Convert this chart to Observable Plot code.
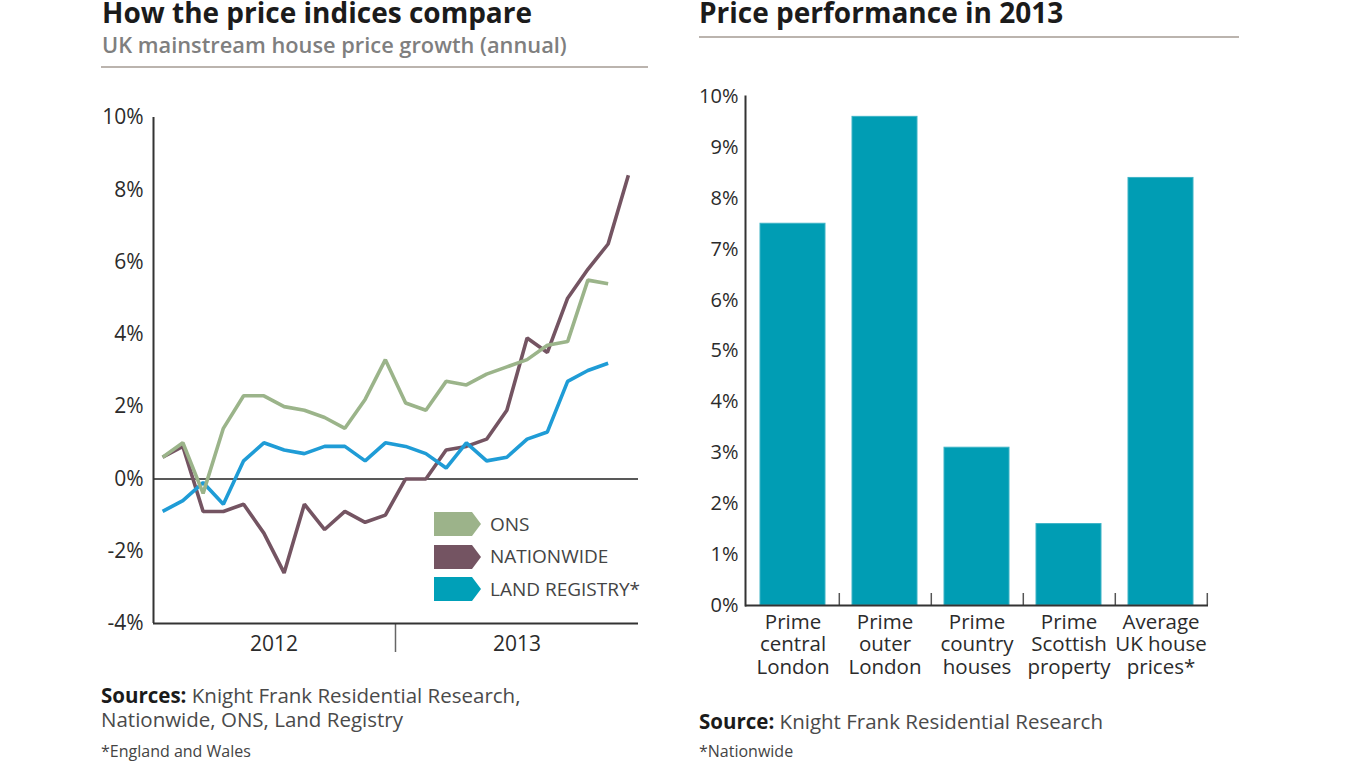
<!DOCTYPE html>
<html>
<head>
<meta charset="utf-8">
<script src="https://cdn.jsdelivr.net/npm/d3@7"></script>
<script src="https://cdn.jsdelivr.net/npm/@observablehq/plot@0.6"></script>
<style>
  body { margin: 0; width: 1366px; height: 768px; background: #fff; position: relative; overflow: hidden; font-family: "Open Sans", sans-serif; }
  .abs { position: absolute; white-space: nowrap; line-height: 1; }
  .title { font-weight: 700; font-size: 28px; color: #1b1b1b; line-height: 0.8; }
  .subtitle { font-weight: 600; font-size: 21.8px; color: #7f7f7f; }
  .rule { position: absolute; height: 2px; background: #bbb4ae; }
  .src { font-size: 20.5px; color: #4a4a4a; line-height: 24px; }
  .src b { color: #1b1b1b; font-weight: 700; }
  .note { font-size: 16px; color: #444; }
  .legend-row { position: absolute; display: flex; align-items: center; height: 24px; }
  .legend-row span { font-size: 19px; color: #444; margin-left: 9px; line-height: 1; }
  #left, #right { position: absolute; }
</style>
</head>
<body>
<div class="abs title" style="left:102px; top:1px;">How the price indices compare</div>
<div class="abs subtitle" style="left:102px; top:33.5px;">UK mainstream house price growth (annual)</div>
<div class="rule" style="left:101px; top:66px; width:547px;"></div>

<div class="abs title" style="left:699px; top:1px;">Price performance in 2013</div>
<div class="rule" style="left:699px; top:36px; width:540px;"></div>

<div id="left" style="left:90px; top:90px;"></div>
<div id="right" style="left:690px; top:80px;"></div>
<div id="legend"></div>

<div class="abs src" style="left:101px; top:683px;"><b>Sources:</b> Knight Frank Residential Research,<br>Nationwide, ONS, Land Registry</div>
<div class="abs note" style="left:101px; top:743px;">*England and Wales</div>

<div class="abs src" style="left:699px; top:709px;"><b>Source:</b> Knight Frank Residential Research</div>
<div class="abs note" style="left:699px; top:743px;">*Nationwide</div>

<script>
// ---------- Left chart data (annual % growth, monthly Jan 2012 – Dec 2013) ----------
const months = ["Jan 2012","Feb 2012","Mar 2012","Apr 2012","May 2012","Jun 2012","Jul 2012","Aug 2012","Sep 2012","Oct 2012","Nov 2012","Dec 2012",
                "Jan 2013","Feb 2013","Mar 2013","Apr 2013","May 2013","Jun 2013","Jul 2013","Aug 2013","Sep 2013","Oct 2013","Nov 2013","Dec 2013"];
const ons = [0.6, 1.0, -0.4, 1.4, 2.3, 2.3, 2.0, 1.9, 1.7, 1.4, 2.2, 3.3, 2.1, 1.9, 2.7, 2.6, 2.9, 3.1, 3.3, 3.7, 3.8, 5.5, 5.4];
const nationwide = [0.6, 0.9, -0.9, -0.9, -0.7, -1.5, -2.6, -0.7, -1.4, -0.9, -1.2, -1.0, 0.0, 0.0, 0.8, 0.9, 1.1, 1.9, 3.9, 3.5, 5.0, 5.8, 6.5, 8.4];
const landRegistry = [-0.9, -0.6, -0.1, -0.7, 0.5, 1.0, 0.8, 0.7, 0.9, 0.9, 0.5, 1.0, 0.9, 0.7, 0.3, 1.0, 0.5, 0.6, 1.1, 1.3, 2.7, 3.0, 3.2];
const seriesNames = ["ONS", "NATIONWIDE", "LAND REGISTRY*"];
const seriesColors = ["#9bb48a", "#745462", "#1f9cd6"];
const legendColors = ["#9cb38a", "#745462", "#00a0b8"];
const leftYTicks = [-4, -2, 0, 2, 4, 6, 8, 10];
const years = ["2012", "2013"];

// ---------- Right chart data ----------
const categories = ["Prime central London", "Prime outer London", "Prime country houses", "Prime Scottish property", "Average UK house prices*"];
const categoryLabels = ["Prime\ncentral\nLondon", "Prime\nouter\nLondon", "Prime\ncountry\nhouses", "Prime\nScottish\nproperty", "Average\nUK house\nprices*"];
const performance2013 = [7.5, 9.6, 3.1, 1.6, 8.4];
const rightYTicks = [0, 1, 2, 3, 4, 5, 6, 7, 8, 9, 10];

// ---------- Build tables ----------
const toRows = (arr, name) => arr.map((v, i) => ({series: name, month: months[i], i, value: v}));
const onsRows = toRows(ons, seriesNames[0]);
const nwRows = toRows(nationwide, seriesNames[1]);
const lrRows = toRows(landRegistry, seriesNames[2]);
const xDomain = [-0.45, months.length - 0.5];
const yearCenters = years.map((y, k) => k * 12 + 5.5);
const yearBoundary = 11.5;

const fontStyle = {fontFamily: "'Open Sans', sans-serif", fontSize: "20px", color: "#333", background: "transparent", overflow: "visible"};

const lineOpts = (color) => ({x: "i", y: "value", stroke: color, strokeWidth: 3.6, strokeLinejoin: "miter", strokeLinecap: "butt"});

const left = Plot.plot({
  width: 560, height: 580,
  marginLeft: 63, marginRight: 12, marginTop: 27, marginBottom: 47,
  x: {domain: xDomain, label: null},
  y: {domain: [leftYTicks[0], leftYTicks[leftYTicks.length - 1]], label: null},
  style: fontStyle,
  marks: [
    Plot.axisY({ticks: leftYTicks, tickFormat: d => d + "%", tickSize: 0, tickPadding: 10, fontSize: 21, fill: "#2b2b2b", label: null}),
    Plot.axisX({ticks: yearCenters, tickFormat: d => years[yearCenters.indexOf(d)], tickSize: 0, tickPadding: 13, fontSize: 21, fill: "#2b2b2b", label: null}),
    Plot.axisX({ticks: [yearBoundary], tickSize: 29, tickFormat: () => "", stroke: "#666", strokeWidth: 1.5, label: null}),
    Plot.ruleY([0], {stroke: "#222", strokeWidth: 1.6}),
    Plot.line(nwRows, lineOpts(seriesColors[1])),
    Plot.line(lrRows, lineOpts(seriesColors[2])),
    Plot.line(onsRows, lineOpts(seriesColors[0])),
    Plot.ruleX([xDomain[0]], {stroke: "#333", strokeWidth: 2}),
    Plot.ruleY([leftYTicks[0]], {stroke: "#333", strokeWidth: 2})
  ]
});
document.getElementById("left").appendChild(left);

// Legend (HTML overlay inside the left plot)
const legend = document.getElementById("legend");
const legendTops = [512, 544.5, 577];
seriesNames.forEach((name, k) => {
  const row = document.createElement("div");
  row.className = "legend-row";
  row.style.left = "434px";
  row.style.top = legendTops[k] + "px";
  row.innerHTML = `<svg width="47" height="24" viewBox="0 0 47 24"><polygon points="0,0 38,0 47,12 38,24 0,24" fill="${legendColors[k]}"/></svg><span>${name}</span>`;
  legend.appendChild(row);
});

// ---------- Right chart ----------
const barRows = categories.map((c, i) => ({category: c, label: categoryLabels[i], value: performance2013[i]}));
const rW = 540, rH = 610, rML = 55, rMR = 22, rMT = 16, rMB = 85;
const step = (rW - rML - rMR) / categories.length;
const yMax = rightYTicks[rightYTicks.length - 1];
const tickUnits = yMax * 12 / (rH - rMT - rMB);

const right = Plot.plot({
  width: rW, height: rH,
  marginLeft: rML, marginRight: rMR, marginTop: rMT, marginBottom: rMB,
  x: {domain: categories, paddingInner: 0.29, paddingOuter: 0.145, label: null},
  y: {domain: [0, yMax], label: null},
  style: fontStyle,
  marks: [
    Plot.barY(barRows, {x: "category", y: "value", fill: "#009db4", stroke: "#3db3c6", strokeWidth: 1}),
    Plot.axisY({ticks: rightYTicks, tickFormat: d => d + "%", tickSize: 0, tickPadding: 7, fontSize: 20, fill: "#2b2b2b", label: null}),
    Plot.axisX({tickSize: 0, tickPadding: 7, tickFormat: d => categoryLabels[categories.indexOf(d)], fontSize: 20.5, lineHeight: 1.1, fill: "#2b2b2b", label: null}),
    Plot.ruleX(categories, {x: d => d, dx: step / 2, y1: 0, y2: tickUnits, stroke: "#555", strokeWidth: 1.5}),
    Plot.ruleY([0], {stroke: "#333", strokeWidth: 2}),
    Plot.frame({anchor: "left", stroke: "#333", strokeWidth: 2})
  ]
});
document.getElementById("right").appendChild(right);
</script>
</body>
</html>
